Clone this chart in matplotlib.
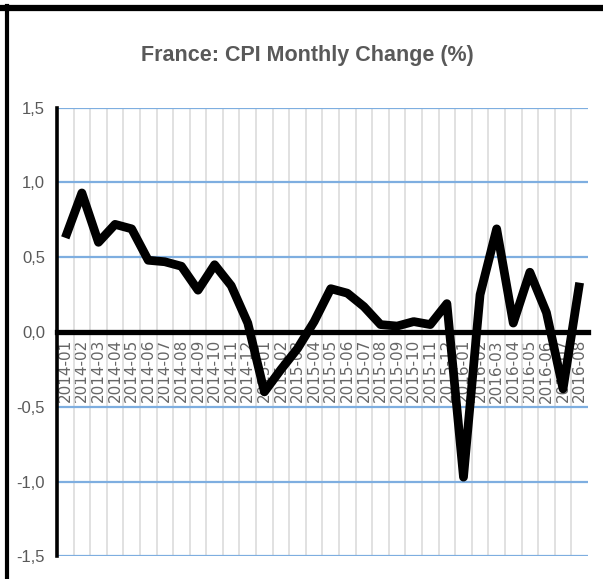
import matplotlib
matplotlib.use('Agg')
import matplotlib.pyplot as plt
from matplotlib.lines import Line2D

# monthly CPI change, France (%)
months = ['2014-01', '2014-02', '2014-03', '2014-04', '2014-05', '2014-06',
          '2014-07', '2014-08', '2014-09', '2014-10', '2014-11', '2014-12',
          '2015-01', '2015-02', '2015-03', '2015-04', '2015-05', '2015-06',
          '2015-07', '2015-08', '2015-09', '2015-10', '2015-11', '2015-12',
          '2016-01', '2016-02', '2016-03', '2016-04', '2016-05', '2016-06',
          '2016-07', '2016-08']
cpi_change = [0.63, 0.93, 0.60, 0.72, 0.69, 0.48, 0.47, 0.44, 0.28, 0.45, 0.31, 0.06,
              -0.40, -0.25, -0.11, 0.07, 0.29, 0.26, 0.17, 0.05, 0.04, 0.07, 0.05, 0.19,
              -0.97, 0.25, 0.69, 0.06, 0.40, 0.13, -0.38, 0.33]
y_ticks = [-1.5, -1.0, -0.5, 0.0, 0.5, 1.0, 1.5]
y_labels = ['-1,5', '-1,0', '-0,5', '0,0', '0,5', '1,0', '1,5']

gray = '#595959'
font = ['Liberation Sans', 'DejaVu Sans']

fig = plt.figure(figsize=(6.03, 5.79), dpi=100)
ax = fig.add_axes([0.0945, 0.039, 0.8805, 0.775])

for s in ['top', 'right']:
    ax.spines[s].set_visible(False)
ax.spines['bottom'].set_position(('data', 0))
ax.spines['bottom'].set_linewidth(3.8)
ax.spines['bottom'].set_zorder(3)
ax.spines['left'].set_linewidth(2.6)

x = list(range(len(months)))
ax.plot(x, cpi_change, color='black', lw=6.3, solid_joinstyle='round',
        solid_capstyle='butt', zorder=4)

ax.set_xlim(-0.5, len(months) - 0.5)
ax.set_ylim(-1.5, 1.5)

# gridlines: blue horizontal, light gray between categories
ax.set_yticks(y_ticks)
ax.set_yticklabels(y_labels, family=font, fontsize=12, color=gray)
ax.yaxis.grid(True, color='#7EAEE0', lw=1.6, zorder=1)
ax.set_xticks([i + 0.5 for i in x[:-1]], minor=True)
ax.xaxis.grid(True, which='minor', color='#DCDCDC', lw=1.2, zorder=0)
ax.set_axisbelow(True)

ax.set_xticks(x)
ax.set_xticklabels(months, family='DejaVu Sans', fontsize=11, color='#666666')
ax.tick_params(axis='x', which='both', length=0, pad=5, labelrotation=90)
ax.tick_params(axis='y', length=0, pad=8.5)

fig.text(0.51, 0.905, 'France: CPI Monthly Change (%)', ha='center', va='center',
         family=font, fontsize=15.5, fontweight='bold', color=gray)

# outer frame (top and left edges only)
fig.add_artist(Line2D([0, 1], [0.9865, 0.9865], color='black', lw=4.5))
fig.add_artist(Line2D([0.0115, 0.0115], [0, 0.99], color='black', lw=3))

fig.savefig('out.png', dpi=100)
